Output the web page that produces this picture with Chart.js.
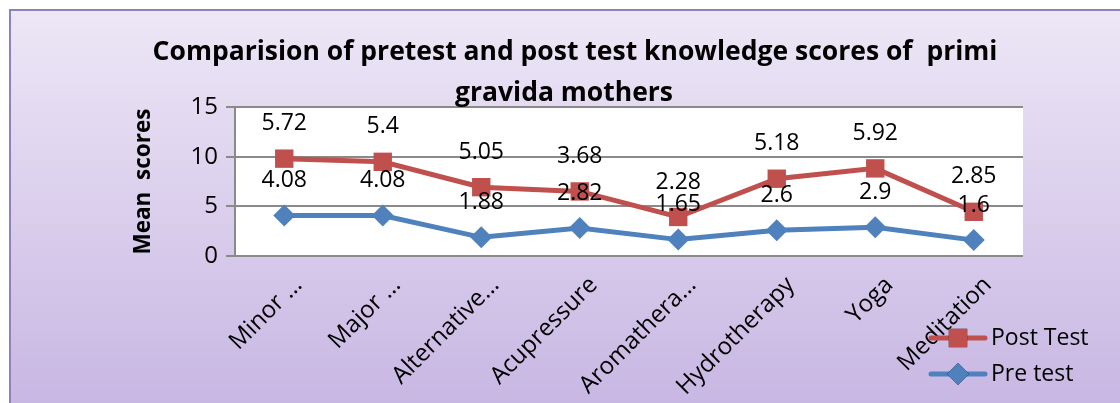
<!DOCTYPE html>
<html><head><meta charset="utf-8">
<script src="https://cdn.jsdelivr.net/npm/chart.js@4.4.1/dist/chart.umd.min.js"></script>
<style>html,body{margin:0;padding:0;background:#fff;overflow:hidden}#wrap{width:1120px;height:403px}</style>
</head><body><div id="wrap"><canvas id="c" width="1120" height="403"></canvas></div>
<script>
const categories = ['Minor \u2026','Major \u2026','Alternative\u2026','Acupressure','Aromathera\u2026','Hydrotherapy','Yoga','Meditation'];
const preTest = [4.08, 4.08, 1.88, 2.82, 1.65, 2.6, 2.9, 1.6];
const postTest = [5.72, 5.4, 5.05, 3.68, 2.28, 5.18, 5.92, 2.85];
const yMin = 0, yMax = 15, yStep = 5;
const titleLines = ['Comparision of pretest and post test knowledge scores of  primi', 'gravida mothers'];
const yTitle = 'Mean  scores';
const FONT = "'Open Sans', sans-serif";

const bgPlugin = {
  id: 'bg',
  beforeDraw(chart) {
    const {ctx, width, height, chartArea: a} = chart;
    ctx.save();
    ctx.fillStyle = '#ffffff';
    ctx.fillRect(0, 0, width, height);
    const g = ctx.createLinearGradient(0, 10, 0, height);
    g.addColorStop(0, '#ede7f6');
    g.addColorStop(1, '#c8b7e3');
    ctx.fillStyle = g;
    ctx.fillRect(10, 10, width, height);
    ctx.strokeStyle = '#8f82b8';
    ctx.lineWidth = 2;
    ctx.beginPath();
    ctx.moveTo(10, height + 5); ctx.lineTo(10, 10); ctx.lineTo(width + 5, 10);
    ctx.stroke();
    ctx.fillStyle = '#ffffff';
    ctx.fillRect(a.left, a.top, a.right - a.left, a.bottom - a.top);
    ctx.restore();
  },
  afterDraw(chart) {
    const {ctx} = chart;
    ctx.save();
    ctx.fillStyle = '#000';
    ctx.font = "bold 26.5px " + FONT;
    ctx.textAlign = 'center';
    ctx.textBaseline = 'middle';
    ctx.fillText(titleLines[0], 575, 52);
    ctx.fillText(titleLines[1], 564, 93);
    ctx.restore();
  }
};

const labelPlugin = {
  id: 'vlabels',
  afterDatasetsDraw(chart) {
    const {ctx} = chart;
    ctx.save();
    ctx.fillStyle = '#000';
    ctx.font = "23px " + FONT;
    ctx.textAlign = 'center';
    ctx.textBaseline = 'middle';
    chart.data.datasets.forEach((ds, i) => {
      const meta = chart.getDatasetMeta(i);
      meta.data.forEach((pt, j) => {
        ctx.fillText(String(ds.data[j]), pt.x, pt.y - 35);
      });
    });
    ctx.restore();
  }
};

const legendPlugin = {
  id: 'legendR',
  afterDraw(chart) {
    const {ctx} = chart;
    const dss = chart.data.datasets.slice().reverse();
    ctx.save();
    ctx.font = "23px " + FONT;
    ctx.textBaseline = 'middle';
    ctx.textAlign = 'left';
    dss.forEach((ds, k) => {
      const y = 338 + k * 36;
      ctx.strokeStyle = ds.borderColor;
      ctx.lineWidth = 5;
      ctx.lineCap = 'round';
      ctx.beginPath(); ctx.moveTo(931, y); ctx.lineTo(985, y); ctx.stroke();
      Chart.helpers.drawPoint(ctx, {pointStyle: ds.pointStyle, radius: ds.pointRadius, borderWidth: 0}, 958, y);
      ctx.fillStyle = ds.borderColor;
      ctx.fill();
      ctx.fillStyle = '#000';
      ctx.fillText(ds.label, 991, y);
    });
    ctx.restore();
  }
};

new Chart(document.getElementById('c'), {
  type: 'line',
  data: {
    labels: categories,
    datasets: [
      {label: 'Pre test', data: preTest, borderColor: '#4f81bd', backgroundColor: '#4f81bd',
       pointBackgroundColor: '#4f81bd', pointBorderColor: '#4f81bd', borderWidth: 5,
       pointStyle: 'rectRot', pointRadius: 11, pointBorderWidth: 0, tension: 0, fill: false},
      {label: 'Post Test', data: postTest, borderColor: '#c0504d', backgroundColor: '#c0504d',
       pointBackgroundColor: '#c0504d', pointBorderColor: '#c0504d', borderWidth: 5,
       pointStyle: 'rect', pointRadius: 13, pointBorderWidth: 0, tension: 0, fill: false}
    ]
  },
  options: {
    responsive: false,
    animation: false,
    devicePixelRatio: 1,
    layout: {padding: {top: 107, right: 97, left: 0, bottom: 0}},
    plugins: {legend: {display: false}, title: {display: false}, tooltip: {enabled: false}},
    scales: {
      x: {
        offset: true,
        grid: {display: false},
        border: {display: false},
        ticks: {color: '#000', font: {family: FONT, size: 24}, minRotation: 45, maxRotation: 45, autoSkip: false, padding: 7, labelOffset: 14},
        afterFit(s) { s.height = 147; }
      },
      y: {
        stacked: true,
        min: yMin, max: yMax,
        ticks: {stepSize: yStep, color: '#000', font: {family: FONT, size: 24}, padding: 8},
        grid: {color: '#8a8a8a', lineWidth: 2, tickLength: 9, drawTicks: true},
        border: {display: true, color: '#8a8a8a', width: 2},
        title: {display: true, text: yTitle, color: '#000', font: {family: FONT, size: 22.5, weight: 'bold'}, padding: {top: 130, bottom: 0}},
        afterFit(s) { s.width = 235; }
      }
    }
  },
  plugins: [bgPlugin, labelPlugin, legendPlugin]
});
</script>
</body></html>
